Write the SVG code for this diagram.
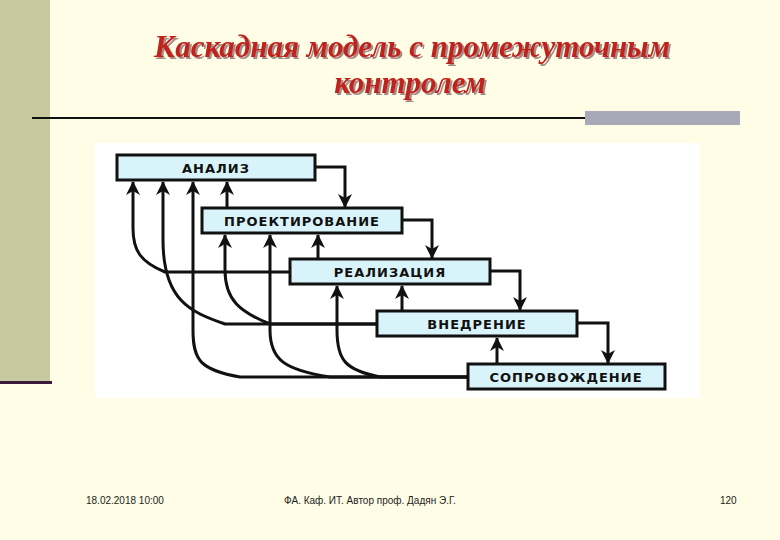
<svg xmlns="http://www.w3.org/2000/svg" width="780" height="540" viewBox="0 0 780 540">
<style>
.box{fill:#d8f4fa;stroke:#111;stroke-width:3}
.lbl{font-family:"DejaVu Sans",sans-serif;font-weight:bold;font-size:13px;letter-spacing:1px;fill:#111;text-anchor:middle}
.c{fill:none;stroke:#111;stroke-width:3}
.t{font-family:"Liberation Serif",serif;font-style:italic;font-weight:bold;font-size:31px;text-anchor:middle;fill:#c0201a}
.f{font-family:"Liberation Sans",sans-serif;font-size:10px;fill:#222}
</style>
<defs>
<marker id="a" viewBox="0 0 14 14" refX="13" refY="7" markerWidth="14" markerHeight="14" markerUnits="userSpaceOnUse" orient="auto">
<path d="M0,0 L14,7 L0,14 L4,7 z" fill="#111"/>
</marker>
<filter id="sh" x="-5%" y="-20%" width="110%" height="140%">
<feDropShadow dx="2" dy="2" stdDeviation="0.6" flood-color="#907070" flood-opacity="0.8"/>
</filter>
</defs>
<rect width="780" height="540" fill="#fffde6"/>
<rect x="0" y="0" width="50" height="382" fill="#c9c9a0"/>
<rect x="0" y="381" width="52" height="3" fill="#3a1a3a"/>
<line x1="32" y1="118" x2="590" y2="118" stroke="#111" stroke-width="2"/>
<rect x="585" y="111" width="155" height="14" fill="#a8a8b8"/>
<g filter="url(#sh)">
<text class="t" x="412" y="57">Каскадная модель с промежуточным</text>
<text class="t" x="410" y="93">контролем</text>
</g>
<rect x="95" y="143" width="605" height="255" fill="#ffffff"/>
<g id="connectors" class="c" marker-end="url(#a)">
<path d="M315,167 H345 V207"/>
<path d="M402,220 H432 V258"/>
<path d="M490,271 H520 V310"/>
<path d="M577,323 H608 V363"/>
<path d="M227,208 V182"/>
<path d="M318,259 V235"/>
<path d="M402,311 V286"/>
<path d="M497,364 V338"/>
<path d="M290,272 H165 C140,262 133,250 133,228 V182"/>
<path d="M377,324 H225 C190,312 163,300 163,240 V182"/>
<path d="M468,377 H240 C200,370 193,360 193,330 V182"/>
<path d="M377,324 H270 C240,312 225,300 225,270 V235"/>
<path d="M468,377 H330 C285,370 270,360 270,330 V235"/>
<path d="M468,377 H380 C345,370 337,360 337,330 V286"/>
</g>
<g id="analiz"><rect class="box" x="117" y="155" width="198" height="25"/><text class="lbl" x="216" y="173">АНАЛИЗ</text></g>
<g id="proekt"><rect class="box" x="202" y="208" width="200" height="25"/><text class="lbl" x="302" y="226">ПРОЕКТИРОВАНИЕ</text></g>
<g id="realiz"><rect class="box" x="290" y="259" width="200" height="25"/><text class="lbl" x="390" y="277">РЕАЛИЗАЦИЯ</text></g>
<g id="vnedr"><rect class="box" x="377" y="311" width="200" height="25"/><text class="lbl" x="477" y="329">ВНЕДРЕНИЕ</text></g>
<g id="soprov"><rect class="box" x="468" y="364" width="197" height="25"/><text class="lbl" x="566" y="382">СОПРОВОЖДЕНИЕ</text></g>
<text class="f" x="86" y="504">18.02.2018 10:00</text>
<text class="f" x="370" y="504" text-anchor="middle">ФА. Каф. ИТ. Автор проф. Дадян Э.Г.</text>
<text class="f" x="720" y="504">120</text>
</svg>
